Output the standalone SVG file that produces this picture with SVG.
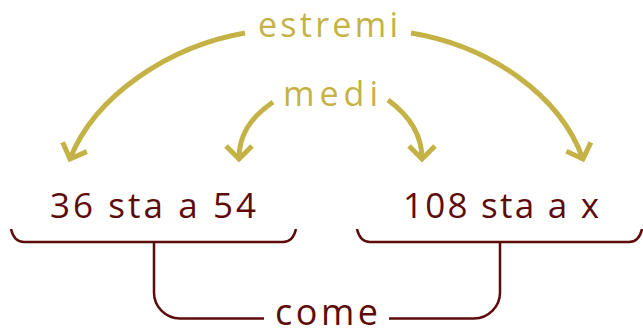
<svg xmlns="http://www.w3.org/2000/svg" width="643" height="329" viewBox="0 0 643 329">
<style>
.gold{fill:none;stroke:#C4B246;stroke-width:5;stroke-linecap:butt}
.red{fill:none;stroke:#5E0B0B;stroke-width:2.5;stroke-linecap:butt}
.tg{font-family:"Open Sans","Noto Sans",sans-serif;fill:#C4B246;font-size:34px;text-anchor:middle}
.tr{font-family:"Open Sans","Noto Sans",sans-serif;fill:#5E0B0B;font-size:35px;text-anchor:middle}
</style>
<defs>
<marker id="v" markerUnits="userSpaceOnUse" viewBox="-16 -16 20 32" refX="0" refY="0" markerWidth="20" markerHeight="32" orient="auto" overflow="visible">
<path d="M-13,-13 L0,0 L-13,13" fill="none" stroke="#C4B246" stroke-width="5" stroke-linejoin="miter"/>
</marker>
</defs>
<g id="connectors">
<path class="gold" d="M245,33 C170,46 95,95 70,159" marker-end="url(#v)"/>
<path class="gold" d="M411,33 C490,46 560,95 583,159" marker-end="url(#v)"/>
<path class="gold" d="M273,102 C250,118 239,135 239,159" marker-end="url(#v)"/>
<path class="gold" d="M388,100 C410,116 422,135 422,159" marker-end="url(#v)"/>
<path class="red" d="M11,229 Q14,242 24,242 H283 Q293,242 296,229"/>
<path class="red" d="M357,229 Q360,242 370,242 H629 Q639,242 642,229"/>
<path class="red" d="M154,242 V292 A26,26 0 0 0 180,318.5 H264"/>
<path class="red" d="M500,242 V292 A26,26 0 0 1 474,318.5 H389"/>
</g>
<g id="estremi"><text class="tg" x="328" y="37" textLength="140" lengthAdjust="spacing">estremi</text></g>
<g id="medi"><text class="tg" x="330.5" y="106" textLength="95" lengthAdjust="spacing">medi</text></g>
<g id="left"><text class="tr" x="153" y="218" textLength="206" lengthAdjust="spacing">36 sta a 54</text></g>
<g id="right"><text class="tr" x="501" y="218" textLength="196" lengthAdjust="spacing">108 sta a x</text></g>
<g id="come"><text class="tr" x="326.5" y="325" style="font-size:36px" textLength="103" lengthAdjust="spacing">come</text></g>
</svg>
